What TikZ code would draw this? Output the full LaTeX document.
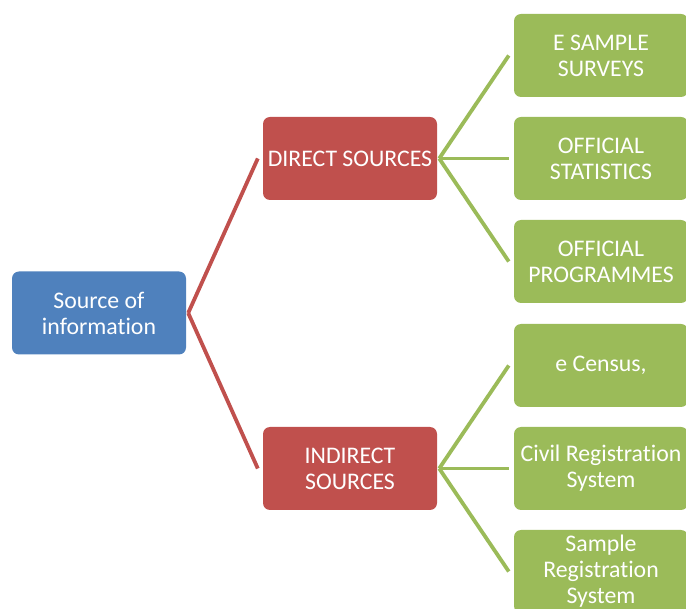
\documentclass[tikz,border=0pt]{standalone}
\usepackage{fontspec}
\setmainfont{Carlito}[RawFeature=-liga]
\begin{document}
\begin{tikzpicture}[x=1pt,y=-1pt,
  box/.style={rectangle, rounded corners=7pt, minimum width=174pt, minimum height=83pt,
    inner sep=0pt, text=white, align=center, font=\fontsize{23.8}{26}\selectfont},
  bluebox/.style={box, fill=blueC},
  redbox/.style={box, fill=redC},
  greenbox/.style={box, fill=greenC},
  redline/.style={draw=redC, line width=3.8pt},
  greenline/.style={draw=greenC, line width=3.8pt}]
\definecolor{blueC}{HTML}{4F81BD}
\definecolor{redC}{HTML}{C0504D}
\definecolor{greenC}{HTML}{9BBB59}
\useasboundingbox (0,0) rectangle (686,609);
\clip (0,0) rectangle (686,609);
\node[bluebox] (root) at (99,313) {Source of\\information};
\node[redbox] (d) at (350,158.5) {DIRECT SOURCES};
\node[redbox] (i) at (350,468.5) {INDIRECT\\SOURCES};
\node[greenbox] (g1) at (601,55.5) {E SAMPLE\\SURVEYS};
\node[greenbox] (g2) at (601,158.5) {OFFICIAL\\STATISTICS};
\node[greenbox] (g3) at (601,261.5) {OFFICIAL\\PROGRAMMES};
\node[greenbox] (g4) at (601,365.5) {e Census,};
\node[greenbox] (g5) at (601,468.5) {Civil Registration\\System};
\node[greenbox] (g6) at (601,571.5) {Sample\\Registration\\System};
\coordinate (rp) at ([xshift=2pt]root.east);
\draw[redline] (rp) -- ([xshift=-5pt]d.west);
\draw[redline] (rp) -- ([xshift=-5pt]i.west);
\coordinate (dp) at ([xshift=2pt]d.east);
\foreach \g in {g1,g2,g3}{\draw[greenline] (dp) -- ([xshift=-5pt]\g.west);}
\coordinate (ip) at ([xshift=2pt]i.east);
\foreach \g in {g4,g5,g6}{\draw[greenline] (ip) -- ([xshift=-5pt]\g.west);}
\end{tikzpicture}
\end{document}
